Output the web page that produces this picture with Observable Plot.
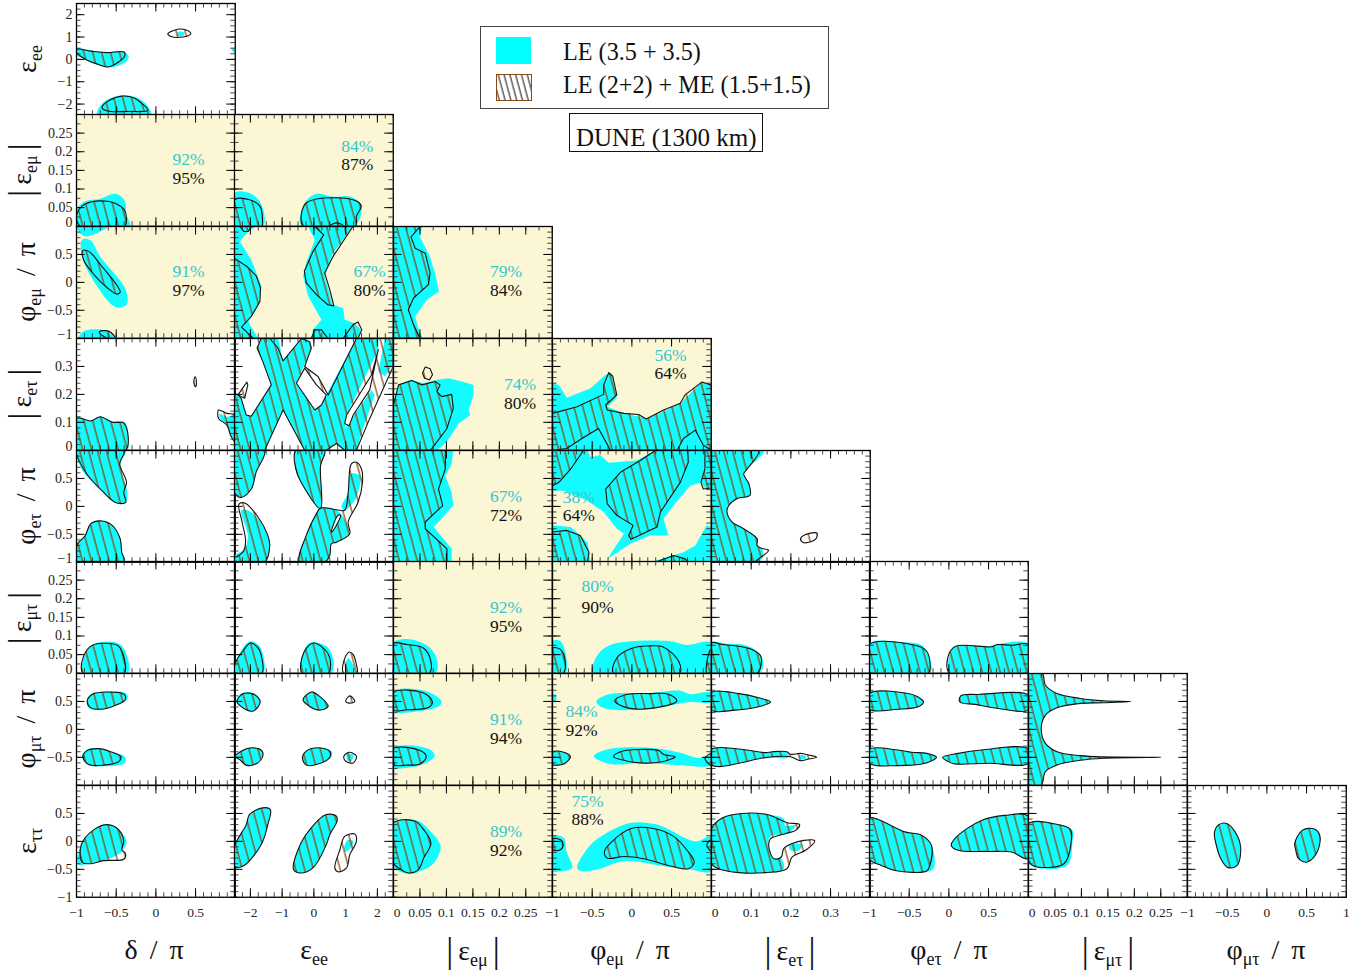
<!DOCTYPE html>
<html><head><meta charset="utf-8">
<script src="https://cdn.jsdelivr.net/npm/d3@7"></script>
<script src="https://cdn.jsdelivr.net/npm/@observablehq/plot@0.6"></script>
<style>
html,body{margin:0;padding:0;background:#fff}
#root{position:relative;width:1372px;height:973px;overflow:hidden;font-family:"Liberation Serif",serif;color:#111}
#root svg.panel{position:absolute;overflow:visible;background:transparent;max-width:none}
.t{position:absolute;white-space:nowrap;line-height:1}
.ax{font-size:28px;word-spacing:5px;transform:translate(-50%,-50%)}
.ay{font-size:28px;word-spacing:5px;transform:translate(-50%,-50%) rotate(-90deg)}
.ax sub,.ay sub{font-size:18px;vertical-align:-6px;line-height:0}
.bar{font-size:35px;vertical-align:-2px;margin:0 5px}
.box{position:absolute;box-sizing:border-box;background:#fff}
</style></head><body><div id="root">
<svg width="0" height="0" style="position:absolute"><defs>
<pattern id="hatch" patternUnits="userSpaceOnUse" width="8.6" height="8.6" patternTransform="rotate(-15)"><line x1="3" y1="0" x2="3" y2="8.6" stroke="#8b3f00" stroke-width="1.2"/></pattern>
<pattern id="hatchK" patternUnits="userSpaceOnUse" width="5.6" height="5.6" patternTransform="rotate(-15)"><line x1="2" y1="0" x2="2" y2="5.6" stroke="#111" stroke-width="1"/></pattern>
</defs></svg>
</div>
<script>
// ---- axes ----
const phiDomain=[-1,1], eeDomain=[-2.5,2.5], emDomain=[0,0.3], etDomain=[0,0.4];
const phiTicks=[-0.5,0,0.5], eeTicks=[-2,-1,0,1,2], emTicks=[0.05,0.1,0.15,0.2,0.25], etTicks=[0.1,0.2,0.3];
const rowTitles=[["ε","ee",""],["|ε","eμ","|"],["φ","eμ"," / π"],["|ε","eτ","|"],["φ","eτ"," / π"],["|ε","μτ","|"],["φ","μτ"," / π"],["ε","ττ",""]];
const colTitles=[["δ",""," / π"],["ε","ee",""],["|ε","eμ","|"],["φ","eμ"," / π"],["|ε","eτ","|"],["φ","eτ"," / π"],["|ε","μτ","|"],["φ","μτ"," / π"]];
// ---- percentage labels ----
const pctRow=[1,1,2,2,2,3,3,4,4,5,5,6,6,7,7];
const pctCol=[0,1,0,1,2,2,3,2,3,2,3,2,3,2,3];
const pctLE=[92,84,91,67,79,74,56,67,38,92,80,91,84,89,75];
const pctME=[95,87,97,80,84,80,64,72,64,95,90,94,92,92,88];
const pctX=[.41,1.37,.41,1.75,.2126,.239,.487,.2126,-.67,.2126,-.433,.2126,-.635,.2126,-.56];
const pctYLE=[.179,.214,.196,.196,.196,.236,.340,.179,.160,.177,.233,.179,.320,.179,.714];
const pctYME=[.129,.166,-.143,-.143,-.143,.168,.275,-.161,-.161,.126,.177,-.161,-.018,-.161,.393];
// ---- regions: le = LE (3.5+3.5), mc = LE (2+2)+ME (1.5+1.5); indices row_col ----
const le_0_0=[
[[-1,.48],[-.82,.40],[-.61,.33],[-.40,.33],[-.34,.10],[-.40,-.16],[-.61,-.37],[-.78,-.19],[-.91,.03],[-1,.18]],
[[-.74,-2.5],[-.655,-1.91],[-.42,-1.61],[-.235,-1.72],[-.11,-2.06],[-.06,-2.5]],
[[.27,1.22],[.35,1.22],[.35,1.07],[.27,1.07]],
[[.954,.43],[1,.55],[1,.28]]];
const mc_0_0=[
[[-1,.45],[-.82,.37],[-.61,.30],[-.40,.33],[-.39,.18],[-.47,-.12],[-.61,-.34],[-.73,-.22],[-.90,.03],[-1,.32]],
[[-.68,-2.16],[-.59,-1.84],[-.42,-1.64],[-.28,-1.72],[-.17,-1.99],[-.10,-2.28],[-.36,-2.33],[-.61,-2.31]],
[[.15,1.15],[.23,1.30],[.31,1.36],[.39,1.30],[.44,1.15],[.39,1.03],[.31,.99],[.21,1.0]]];
const le_1_0=[[[-1,.045],[-.89,.067],[-.70,.074],[-.51,.087],[-.395,.069],[-.37,.031],[-.33,0],[-1,0]]];
const mc_1_0=[[[-1,.027],[-.93,.054],[-.82,.065],[-.61,.067],[-.51,.061],[-.40,.045],[-.37,.018],[-.395,0],[-.95,0]]];
const le_1_1=[
[[-2.5,.089],[-2.02,.089],[-1.65,.058],[-1.6,0],[-2.5,0]],
[[-.39,0],[-.29,.0625],[.08,.0875],[.60,.079],[1.13,.080],[1.49,.058],[1.28,0]]];
const mc_1_1=[
[[-2.5,.071],[-2.02,.071],[-1.70,.054],[-1.62,.018],[-1.65,0],[-2.5,0]],
[[-.34,0],[-.29,.058],[.08,.073],[1.23,.071],[1.49,.055],[1.34,.027],[1.31,0]],
[[.48,0],[.73,.009],[.94,0]]];
const le_2_0=[
[[-.93,.76],[-.83,.76],[-.70,.46],[-.38,-.13],[-.37,-.40],[-.51,-.44],[-.74,-.07],[-.93,.46]],
[[-1,1],[-.61,1],[-.74,.88],[-.91,.83]],
[[-.97,-1],[-.91,-.875],[-.70,-.845],[-.55,-.905],[-.51,-1]]];
const mc_2_0=[
[[-.92,.57],[-.84,.55],[-.70,.32],[-.45,-.17],[-.49,-.21],[-.61,-.10],[-.78,.14],[-.91,.40]],
[[-.71,-.88],[-.59,-.875],[-.51,-1],[-.61,-1],[-.71,-.905]]];
const le_2_1=[
[[-2.5,1],[-1.81,1],[-2.07,.91],[-2.33,.73],[-1.97,.40],[-1.65,-.07],[-1.76,-.43],[-2.07,-.70],[-1.76,-1],[-2.5,-1]],
[[-.18,1],[.03,.76],[-.24,.35],[-.34,.11],[-.18,-.25],[.24,-.67],[-.03,-.85],[-.08,-1],[.34,-1],[1.39,-1],[1.49,-.85],[1.28,-.73],[.97,-.67],[.92,-.46],[.60,-.40],[.34,.11],[.60,.52],[1.23,1]]];
const mc_2_1=[
[[-2.5,.43],[-2.12,.29],[-1.81,.11],[-1.68,-.10],[-1.70,-.34],[-1.97,-.61],[-2.28,-.80],[-1.91,-1],[-2.5,-1]],
[[-2.33,1],[-2.2,.91],[-2.07,.91],[-1.97,1]],
[[.03,1],[.31,.85],[-.03,.55],[-.30,.20],[-.24,-.01],[.08,-.22],[.44,-.40],[.63,-.42],[.50,-.13],[.34,.17],[.60,.46],[1.23,1]],
[[-.08,-1],[.03,-.85],[.24,-.85],[.44,-1]],
[[.92,-1],[1.23,-.76],[1.39,-.71],[1.51,-.85],[1.39,-1]]];
const le_2_2=[[[0,1],[.054,1],[.050,.81],[.069,.46],[.079,.14],[.086,-.16],[.063,-.31],[.041,-.61],[.047,-.82],[.055,-1],[0,-1]]];
const mc_2_2=[[[0,1],[.050,1],[.033,.81],[.041,.61],[.060,.52],[.069,.17],[.066,-.04],[.038,-.28],[.028,-.49],[.038,-.76],[.050,-1],[0,-1]]];
const le_3_0=[
[[-1,.114],[-.82,.105],[-.70,.12],[-.55,.105],[-.39,.10],[-.35,.042],[-.36,0],[-1,0]],
[[.80,.13],[.895,.12],[1,.126],[1,.03],[.94,.054],[.895,.09],[.81,.114]]];
const mc_3_0=[
[[-1,.114],[-.82,.105],[-.70,.12],[-.55,.10],[-.40,.096],[-.38,0],[-1,0]],
[[.484,.258],[.495,.263],[.51,.246],[.50,.227],[.484,.234]],
[[.79,.144],[.895,.132],[1,.126],[1,.03],[.94,.054],[.895,.09],[.79,.114]]];
const le_3_1=[
[[-2.5,0],[-2.5,.204],[-2.29,.186],[-2.13,.126],[-1.97,.122],[-1.71,.168],[-1.34,.234],[-1.61,.318],[-1.79,.366],[-1.66,.40],[-1.13,.40],[-.97,.32],[-.39,.40],[-.13,.388],[-.08,.366],[-.55,.24],[.03,.144],[.39,.198],[1.34,.40],[2.03,.40],[2.03,.36],[1.03,.126],[.97,.078],[1.82,.216],[1.92,.198],[1.55,.078],[1.34,0],[.97,0],[.71,.024],[.39,0],[-.29,0],[-.97,.144],[-1.55,0]],
[[2.24,.40],[2.5,.40],[2.5,.306],[2.24,.264],[2.03,.282]]];
const mc_3_1=[
[[-2.5,0],[-2.5,.204],[-2.39,.198],[-2.29,.186],[-2.13,.126],[-1.97,.122],[-1.71,.168],[-1.34,.234],[-1.61,.318],[-1.79,.366],[-1.66,.40],[-1.39,.40],[-1.13,.366],[-.97,.32],[-.39,.40],[-.13,.388],[-.08,.366],[-.29,.30],[.13,.264],[.45,.198],[1.34,.40],[2.5,.40],[2.5,.30],[1.76,.114],[1.34,0],[.97,0],[.71,.024],[.39,0],[-.29,0],[-.97,.144],[-1.55,0]],
[[-2.39,.198],[-2.11,.244],[-2.08,.234],[-2.18,.186]],
[[-.47,.236],[-.22,.21],[-.18,.198],[-.47,.228]]];
const hole_3_1=[
[[-.29,.294],[-.55,.24],[.03,.144],[.24,.162],[.39,.198],[.08,.234]],
[[2.03,.36],[1.82,.27],[1.03,.126],[.97,.096],[1.11,.088],[1.24,.126],[1.76,.216],[1.97,.33]]];
const le_4_0=[
[[-1,1],[-.38,1],[-.45,.76],[-.36,.25],[-.38,.07],[-.51,.06],[-.68,.28],[-.91,.61],[-1,.91]],
[[-1,-1],[-1,-.70],[-.89,-.52],[-.82,-.31],[-.70,-.26],[-.55,-.34],[-.45,-.58],[-.43,-.82],[-.40,-1]]];
const mc_4_0=[
[[-1,1],[-.40,1],[-.455,.76],[-.37,.43],[-.405,.25],[-.38,.07],[-.51,.07],[-.68,.28],[-.87,.58],[-1,.94]],
[[-1,-1],[-1,-.70],[-.89,-.52],[-.82,-.31],[-.70,-.26],[-.55,-.34],[-.45,-.58],[-.43,-.82],[-.40,-1]]];
const le_4_1=[
[[-2.5,1],[-1.55,1],[-1.82,.61],[-1.97,.31],[-2.29,.16],[-2.5,.25]],
[[-.57,1],[.34,1],[.21,.73],[.21,-.04],[-.34,.37],[-.57,.67]],
[[-2.29,-.07],[-2.08,-.07],[-1.76,-.22],[-1.45,-.52],[-1.39,-.70],[-1.55,-1],[-2.5,-1],[-2.5,-.89],[-2.18,-.76],[-2.08,-.52]],
[[-.45,-1],[-.24,-.52],[.08,-.13],[.21,-.03],[.71,-.06],[1.03,-.31],[1.08,-.49],[.71,-.64],[.55,-.67],[.50,-.88],[.34,-1]],
[[1.08,.25],[1.15,.58],[1.45,.55],[1.39,.25],[1.24,.07],[.97,-.07],[.87,-.01]]];
const mc_4_1=[
[[-2.5,1],[-1.55,1],[-1.82,.61],[-1.97,.31],[-2.29,.16],[-2.5,.25]],
[[-.57,1],[.34,1],[.21,.73],[.21,-.04],[-.34,.37],[-.57,.67]],
[[-2.36,.04],[-2.18,.06],[-1.76,-.19],[-1.45,-.52],[-1.39,-.70],[-1.55,-1],[-2.5,-1],[-2.6,-.88],[-2.5,-.91],[-2.24,-.82],[-2.15,-.64],[-2.26,-.28]],
[[-.45,-1],[-.24,-.52],[.08,-.13],[.21,-.03],[.71,-.06],[.97,-.07],[1.08,.25],[1.18,.76],[1.34,.79],[1.50,.67],[1.53,.43],[1.39,.07],[1.08,-.28],[1.13,-.49],[.71,-.64],[.55,-.67],[.50,-.88],[.34,-1]]];
const hole_4_1=[[[.76,-.16],[.55,-.46],[.61,-.43],[.84,-.16]]];
const le_3_2=[[[0,0],[0,.174],[.0095,.234],[.0315,.252],[.0567,.24],[.082,.252],[.104,.258],[.129,.246],[.151,.234],[.151,.198],[.142,.144],[.145,.126],[.123,.096],[.101,.03],[.082,0]]];
const mc_3_2=[
[[0,0],[0,.162],[.0095,.234],[.0347,.25],[.0536,.234],[.0788,.246],[.088,.234],[.082,.21],[.091,.192],[.11,.20],[.113,.15],[.101,.078],[.0725,.006],[.069,0]],
[[.0548,.276],[.06,.298],[.0693,.292],[.0737,.27],[.068,.252],[.0586,.258]]];
const le_3_3=[[[-1,.24],[-.92,.234],[-.82,.188],[-.52,.222],[-.33,.27],[-.25,.276],[-.19,.186],[-.31,.156],[-.10,.132],[.19,.114],[.44,.144],[.61,.168],[.88,.244],[1,.234],[1,0],[-1,0]]];
const mc_3_3=[[[-1,.132],[-.69,.156],[-.355,.20],[-.355,.234],[-.29,.278],[-.24,.264],[-.19,.198],[-.33,.162],[-.31,.144],[-.10,.132],[.085,.128],[.18,.112],[.40,.144],[.61,.168],[.67,.198],[.88,.244],[1,.234],[1,0],[.90,.018],[.80,.072],[.65,.042],[.57,0],[-.27,0],[-.42,.078],[-.63,.042],[-.82,.006],[-1,0]]];
const le_4_2=[[[0,1],[.113,1],[.11,.76],[.098,.55],[.11,.25],[.113,.015],[.076,-.37],[.11,-.76],[.11,-1],[0,-1]]];
const mc_4_2=[[[0,1],[.098,1],[.098,.67],[.085,.31],[.093,.015],[.06,-.28],[.06,-.40],[.101,-.76],[.101,-1],[0,-1]]];
const le_4_3=[
[[-1,1],[-.56,1],[-.52,.88],[-.40,.92],[-.29,.78],[.06,.82],[.295,1],[.92,1],[.92,.73],[.88,.43],[.735,.37],[.525,.015],[.40,-.22],[.46,-.52],[.23,-.52],[-.02,-.67],[-.31,-.94],[-.10,-.49],[-.19,-.40],[-.355,-.10],[-.56,.10],[-.86,.28],[-1,.28]],
[[.23,-1],[.65,-.82],[.80,-.70],[.94,-.34],[1,-.37],[1,-1]],
[[-1,-.34],[-.77,-.37],[-.56,-.64],[-.52,-1],[-1,-1]],
[[.92,1],[1,1],[1,.33],[.92,.33],[.87,.43],[.92,.67]]];
const mc_4_3=[
[[-1,1],[-.61,1],[-.77,.67],[-.92,.43],[-1,.37]],
[[.295,1],[.705,1],[.71,.79],[.61,.43],[.36,-.10],[.316,-.37],[-.01,-.59],[-.04,-.52],[.015,-.34],[-.19,-.16],[-.31,.045],[-.33,.31],[-.145,.61],[.106,.82]],
[[-1,-.46],[-.82,-.43],[-.65,-.52],[-.54,-.82],[-.56,-1],[-1,-1]],
[[.92,1],[1,1],[1,.33],[.90,.31],[.87,.43],[.92,.67]],
[[.295,-1],[.525,-.88],[.67,-.94],[.71,-1]]];
const le_4_4=[[[0,1],[.132,1],[.09,.67],[.081,.58],[.094,.405],[.097,.20],[.065,.14],[.044,.02],[.039,-.10],[.052,-.28],[.081,-.40],[.115,-.58],[.115,-.70],[.128,-.77],[.128,-.93],[.115,-1],[0,-1]]];
const mc_4_4=[
[[0,1],[.119,1],[.09,.67],[.081,.58],[.094,.405],[.097,.20],[.065,.14],[.044,.02],[.039,-.10],[.052,-.28],[.081,-.40],[.115,-.58],[.115,-.70],[.128,-.755],[.144,-.785],[.115,-.96],[.108,-1],[0,-1]],
[[.224,-.59],[.237,-.505],[.266,-.48],[.262,-.59],[.233,-.65]]];
const le_5_0=[[[-.916,0],[-.90,.046],[-.80,.076],[-.615,.085],[-.447,.077],[-.355,.041],[-.355,0]]];
const mc_5_0=[[[-.916,0],[-.91,.046],[-.80,.075],[-.594,.08],[-.47,.073],[-.40,.041],[-.40,0]]];
const le_5_1=[
[[-2.48,0],[-2.45,.032],[-2.03,.085],[-1.71,.073],[-1.6,0]],
[[-.39,0],[-.34,.055],[-.13,.082],[.39,.073],[.6,.041],[.55,0]],
[[1.0,0],[1.08,.041],[1.32,0]]];
const mc_5_1=[
[[-2.48,0],[-2.47,.028],[-2.24,.059],[-2.0,.081],[-1.76,.068],[-1.64,.041],[-1.64,0]],
[[-.37,0],[-.32,.055],[-.03,.081],[.29,.068],[.5,.041],[.45,0]],
[[.94,0],[.94,.032],[1.11,.057],[1.24,.05],[1.34,.023],[1.36,0]]];
const le_5_2=[[[0,.082],[.0315,.091],[.069,.068],[.083,.032],[.079,0],[0,0]]];
const mc_5_2=[[[0,.08],[.025,.077],[.057,.067],[.0706,.032],[.068,0],[0,0]]];
const le_5_3=[
[[-1,.086],[-.90,.086],[-.824,.041],[-.84,0],[-1,0]],
[[-.48,0],[-.44,.046],[-.27,.076],[.48,.086],[.69,.076],[1,.082],[1,0]]];
const mc_5_3=[
[[-1,.067],[-.90,.064],[-.84,.032],[-.866,0],[-1,0]],
[[-.23,0],[-.19,.041],[0,.067],[.19,.073],[.40,.07],[.59,.032],[.60,0]],
[[.944,0],[.965,.05],[1,.064],[1,0]]];
const le_5_4=[[[0,.0815],[.035,.08],[.094,.0725],[.128,.041],[.128,.01],[.119,0],[0,0]]];
const mc_5_4=[[[0,.0815],[.027,.077],[.069,.0725],[.102,.064],[.123,.048],[.126,.032],[.115,0],[0,0]]];
const le_5_5=[
[[-1,.08],[-.60,.083],[-.345,.075],[-.24,.041],[-.24,0],[-1,0]],
[[.01,0],[0,.041],[.075,.072],[.495,.072],[.62,.079],[1,.079],[1,0]]];
const mc_5_5=[
[[-1,.077],[-.39,.073],[-.28,.059],[-.24,.032],[-.26,0],[-1,0]],
[[.01,0],[-.01,.045],[.08,.072],[.54,.071],[.62,.077],[.79,.075],[1,.077],[1,0]]];
const le_6_0=[
[[-.866,.50],[-.82,.63],[-.615,.68],[-.385,.65],[-.355,.56],[-.49,.44],[-.70,.35],[-.845,.38]],
[[-.93,-.49],[-.866,-.36],[-.72,-.345],[-.53,-.42],[-.39,-.49],[-.39,-.60],[-.656,-.66],[-.866,-.63]]];
const mc_6_0=[
[[-.866,.50],[-.80,.63],[-.615,.67],[-.405,.63],[-.385,.53],[-.53,.42],[-.70,.36],[-.82,.39]],
[[-.92,-.49],[-.866,-.38],[-.72,-.345],[-.57,-.40],[-.44,-.49],[-.47,-.58],[-.656,-.64],[-.845,-.63]]];
const le_6_1=[
[[-2.45,.50],[-2.24,.65],[-1.82,.63],[-1.69,.49],[-1.87,.33],[-2.18,.37]],
[[-.34,.53],[-.08,.67],[.18,.59],[.45,.41],[.18,.345],[-.13,.41]],
[[-2.48,-.49],[-2.29,-.39],[-1.92,-.33],[-1.63,-.39],[-1.63,-.51],[-1.87,-.63],[-2.13,-.64],[-2.34,-.54]],
[[-.36,-.51],[-.24,-.39],[.13,-.33],[.55,-.39],[.55,-.50],[.08,-.63],[-.24,-.64]],
[[1.03,-.45],[1.24,-.45],[1.18,-.57],[1.08,-.57]]];
const mc_6_1=[
[[-2.42,.50],[-2.22,.64],[-1.87,.62],[-1.69,.49],[-1.90,.33],[-2.13,.35]],
[[-.34,.53],[-.08,.67],[.18,.59],[.45,.41],[.18,.345],[-.13,.41]],
[[1.0,.5],[1.13,.60],[1.29,.5],[1.13,.47]],
[[-2.48,-.49],[-2.29,-.39],[-1.92,-.33],[-1.63,-.39],[-1.63,-.51],[-1.87,-.63],[-2.13,-.64],[-2.34,-.54]],
[[-.36,-.51],[-.24,-.39],[.13,-.33],[.50,-.39],[.50,-.50],[.08,-.63],[-.24,-.64]],
[[.94,-.49],[1.11,-.41],[1.34,-.48],[1.24,-.60],[1.03,-.58]]];
const le_6_2=[
[[0,.68],[.063,.68],[.091,.50],[.085,.41],[.05,.33],[0,.33]],
[[0,-.33],[.069,-.36],[.0775,-.48],[.057,-.62],[.0315,-.68],[0,-.68]]];
const mc_6_2=[
[[0,.66],[.057,.65],[.0737,.49],[.066,.39],[.025,.35],[0,.345]],
[[0,-.345],[.05,-.38],[.062,-.49],[.05,-.62],[.025,-.64],[0,-.63]]];
const le_6_3=[
[[-.447,.50],[-.313,.62],[.23,.65],[.61,.69],[.735,.63],[1,.66],[1,.49],[.735,.49],[.27,.38],[-.23,.35],[-.397,.41]],
[[-.48,-.48],[-.313,-.36],[.23,-.33],[.61,-.42],[.82,-.51],[1,-.48],[1,-.64],[.61,-.64],[.148,-.60],[-.27,-.62]],
[[-1,-.41],[-.858,-.41],[-.774,-.49],[-.858,-.62],[-.94,-.64],[-1,-.63]],
[[-1,.62],[-.96,.62],[-.96,.5],[-1,.5]]];
const mc_6_3=[
[[-.216,.51],[-.08,.62],[.23,.64],[.46,.63],[.567,.51],[.27,.38],[-.04,.38]],
[[-.23,-.49],[-.145,-.40],[.085,-.36],[.337,-.38],[.40,-.45],[.546,-.49],[.38,-.58],[.106,-.60],[-.08,-.56]],
[[-1,-.41],[-.858,-.41],[-.774,-.49],[-.858,-.62],[-.94,-.64],[-1,-.63]],
[[.92,-.51],[1,-.44],[1,-.64],[.944,-.58]]];
const le_6_4=[
[[0,.66],[.069,.64],[.119,.565],[.149,.49],[.119,.405],[.06,.345],[0,.345]],
[[0,-.357],[.069,-.35],[.136,-.416],[.153,-.40],[.19,-.41],[.193,-.505],[.136,-.505],[.069,-.607],[.0185,-.666],[0,-.636]],
[[.22,-.47],[.237,-.47],[.237,-.53],[.224,-.53]]];
const mc_6_4=[
[[0,.66],[.069,.64],[.119,.565],[.149,.49],[.119,.405],[.06,.345],[0,.345]],
[[0,-.357],[.069,-.35],[.136,-.416],[.153,-.40],[.19,-.40],[.199,-.446],[.224,-.43],[.245,-.458],[.265,-.50],[.245,-.53],[.224,-.56],[.199,-.49],[.136,-.505],[.069,-.607],[.0185,-.666],[0,-.636]]];
const le_6_5=[
[[-1,.643],[-.51,.643],[-.387,.58],[-.32,.49],[-.387,.405],[-.64,.36],[-1,.36]],
[[.15,.60],[.37,.625],[1,.61],[1,.345],[.62,.375],[.327,.447],[.138,.49]],
[[-1,-.357],[-.64,-.37],[-.47,-.41],[-.28,-.43],[-.156,-.50],[-.30,-.607],[-.64,-.648],[-1,-.607]],
[[-.08,-.50],[.117,-.43],[.41,-.37],[1,-.35],[1,-.607],[.495,-.607],[.075,-.618],[-.009,-.577]]];
const mc_6_5=le_6_5;
const le_6_6=[[[0,1],[.026,1],[.032,.79],[.054,.643],[.098,.554],[.142,.512],[.193,.50],[.142,.476],[.098,.465],[.054,.387],[.032,.256],[.024,0],[.032,-.25],[.054,-.40],[.098,-.47],[.142,-.493],[.251,-.50],[.142,-.517],[.098,-.553],[.054,-.636],[.032,-.755],[.024,-1],[0,-1]]];
const mc_6_6=le_6_6;
const le_7_0=[[[-.98,-.415],[-.94,-.06],[-.78,.21],[-.61,.30],[-.47,.21],[-.37,0],[-.45,-.21],[-.66,-.345],[-.82,-.385]]];
const mc_7_0=[[[-.93,-.37],[-.94,-.06],[-.78,.21],[-.61,.30],[-.47,.21],[-.405,0],[-.43,-.15],[-.385,-.21],[-.40,-.315],[-.66,-.345],[-.82,-.40]]];
const le_7_1=[
[[-2.5,-.445],[-2.5,-.09],[-2.13,.30],[-2.03,.48],[-1.61,.60],[-1.37,.57],[-1.45,.30],[-1.66,-.06],[-2.24,-.445]],
[[-.64,-.505],[-.5,-.15],[-.13,.21],[.39,.48],[.71,.45],[.73,.36],[.5,.12],[.39,-.06],[-.03,-.475],[-.45,-.565]],
[[.97,-.06],[1.08,.03],[1.24,0],[1.11,-.15],[.97,-.18]]];
const mc_7_1=[
le_7_1[0],le_7_1[1],
[[.66,-.475],[.82,-.15],[.97,.09],[1.29,.13],[1.34,0],[1.13,-.24],[1.03,-.475],[.76,-.545]]];
const le_7_2=[[[0,.33],[.044,.375],[.0725,.15],[.089,-.09],[.076,-.39],[.05,-.535],[.028,-.58],[0,-.445]]];
const mc_7_2=[[[0,.33],[.041,.36],[.057,.21],[.0706,-.03],[.057,-.30],[.047,-.505],[.028,-.565],[.0095,-.475],[0,-.39]]];
const le_7_3=[
[[-1,.09],[-.858,.06],[-.824,-.18],[-.753,-.475],[-.90,-.535],[-1,-.535]],
[[-.69,-.475],[-.52,-.06],[-.355,.12],[-.02,.33],[.316,.30],[.80,0],[1,.09],[1,-.535],[.735,-.505],[.40,-.445],[-.10,-.355],[-.44,-.505],[-.627,-.535]]];
const mc_7_3=[
[[-1,.04],[-.90,.03],[-.866,-.06],[-.90,-.15],[-1,-.15]],
[[-.346,-.18],[-.27,-.03],[-.01,.23],[.27,.23],[.525,.09],[.69,-.15],[.785,-.375],[.71,-.49],[.50,-.445],[.148,-.31],[-.10,-.27],[-.31,-.30]],
[[.944,-.06],[1,.03],[1,-.18]]];
const le_7_4=[
[[0,.226],[.027,.42],[.077,.50],[.14,.48],[.182,.405],[.186,.285],[.212,.285],[.19,.137],[.149,.095],[.143,-.04],[.157,-.31],[.176,-.31],[.182,-.49],[.136,-.56],[.069,-.56],[.0185,-.49],[0,-.40]],
[[.195,-.06],[.228,-.06],[.22,-.16],[.199,-.16]]];
const mc_7_4=[[[0,.226],[.027,.42],[.077,.50],[.14,.48],[.19,.335],[.222,.30],[.212,.197],[.186,.137],[.149,.048],[.144,-.07],[.157,-.31],[.176,-.28],[.182,-.13],[.203,-.04],[.233,.018],[.26,.012],[.237,-.16],[.203,-.28],[.19,-.49],[.136,-.56],[.069,-.56],[.0185,-.49],[0,-.40]]];
const le_7_5=[
[[-1,.42],[-.89,.39],[-.555,.17],[-.345,.11],[-.22,-.07],[-.18,-.43],[-.22,-.52],[-.68,-.52],[-.85,-.43],[-1,-.32]],
[[.03,-.07],[.096,.08],[.41,.375],[.705,.465],[1,.45],[1,-.31],[.79,-.19],[.495,-.18],[.117,-.16]]];
const mc_7_5=[
[[-1,.42],[-.89,.39],[-.555,.17],[-.345,.11],[-.22,-.07],[-.24,-.43],[-.28,-.53],[-.68,-.52],[-.85,-.43],[-1,-.32]],
le_7_5[1]];
const le_7_6=[[[0,.316],[.048,.316],[.083,.197],[.083,-.01],[.073,-.43],[.01,-.46],[0,-.37]]];
const mc_7_6=[[[0,.316],[.048,.316],[.079,.215],[.081,.018],[.067,-.40],[.01,-.44],[0,-.34]]];
const le_7_7=[
[[-.66,.167],[-.605,.30],[-.50,.316],[-.374,.107],[-.33,-.10],[-.374,-.43],[-.49,-.47],[-.58,-.31],[-.647,-.01]],
[[.35,-.04],[.445,.197],[.59,.226],[.667,.107],[.634,-.19],[.51,-.37],[.40,-.31],[.36,-.13]]];
const mc_7_7=le_7_7;
// ---- drawing ----
const root=document.getElementById("root");
const panelW=158.75, panelH=111.75, left0=75.5, top0=2.5;
const axes=[
 {domain:phiDomain,ticks:phiTicks,minor:0.1},
 {domain:eeDomain,ticks:eeTicks,minor:0.25},
 {domain:emDomain,ticks:emTicks,minor:0.025},
 {domain:phiDomain,ticks:phiTicks,minor:0.1},
 {domain:etDomain,ticks:etTicks,minor:0.02},
 {domain:phiDomain,ticks:phiTicks,minor:0.1},
 {domain:emDomain,ticks:emTicks,minor:0.025},
 {domain:phiDomain,ticks:phiTicks,minor:0.1}];
const rowAxes=[axes[1],axes[2],axes[3],axes[4],axes[5],axes[6],axes[7],axes[3]];
const creamCells=new Set(pctRow.map((r,i)=>r+"_"+pctCol[i]));
const regions={le_0_0,mc_0_0,le_1_0,mc_1_0,le_1_1,mc_1_1,le_2_0,mc_2_0,le_2_1,mc_2_1,le_2_2,mc_2_2,le_3_0,mc_3_0,le_3_1,mc_3_1,le_3_2,mc_3_2,le_3_3,mc_3_3,le_4_0,mc_4_0,le_4_1,mc_4_1,le_4_2,mc_4_2,le_4_3,mc_4_3,le_4_4,mc_4_4,le_5_0,mc_5_0,le_5_1,mc_5_1,le_5_2,mc_5_2,le_5_3,mc_5_3,le_5_4,mc_5_4,le_5_5,mc_5_5,le_6_0,mc_6_0,le_6_1,mc_6_1,le_6_2,mc_6_2,le_6_3,mc_6_3,le_6_4,mc_6_4,le_6_5,mc_6_5,le_6_6,mc_6_6,le_7_0,mc_7_0,le_7_1,mc_7_1,le_7_2,mc_7_2,le_7_3,mc_7_3,le_7_4,mc_7_4,le_7_5,mc_7_5,le_7_6,mc_7_6,le_7_7,mc_7_7};
const holes={ "3_1":hole_3_1, "4_1":hole_4_1 };
const sharpPanels=new Set(["2_1","2_2","3_1","3_2","3_3","4_2","4_3"]);
const px=d=>d[0], py=d=>d[1], CYAN="#12fbff", CREAM="#fbf6d4", FONT='"Liberation Serif",serif';
const fmt=v=>String(v).replace("-","−");
const minorTicks=a=>d3.range(Math.round((a.domain[1]-a.domain[0])/a.minor)+1).map(i=>+(a.domain[0]+i*a.minor).toFixed(4));
function tickMarks(xa,ya){
 const [x0,x1]=xa.domain,[y0,y1]=ya.domain;
 const dx=(x1-x0)/panelW, dy=(y1-y0)/panelH, out=[];
 const add=(vals,len,sw,col)=>{
  out.push(Plot.ruleX(vals.x,{x:d=>d,y1:y0,y2:y0+len*dy,stroke:col,strokeWidth:sw}));
  out.push(Plot.ruleX(vals.x,{x:d=>d,y1:y1,y2:y1-len*dy,stroke:col,strokeWidth:sw}));
  out.push(Plot.ruleY(vals.y,{y:d=>d,x1:x0,x2:x0+len*dx,stroke:col,strokeWidth:sw}));
  out.push(Plot.ruleY(vals.y,{y:d=>d,x1:x1,x2:x1-len*dx,stroke:col,strokeWidth:sw}));
 };
 add({x:minorTicks(xa),y:minorTicks(ya)},4.5,.9,"#333");
 add({x:xa.ticks,y:ya.ticks},8.5,1,"#000");
 return out;
}
const yLabelLists=[[-2,-1,0,1,2],[0,.05,.1,.15,.2,.25],[-1,-.5,0,.5],[0,.1,.2,.3],[-1,-.5,0,.5],[0,.05,.1,.15,.2,.25],[-.5,0,.5],[-1,-.5,0,.5]];
const raisedRows=[1,2,3,4,5];
const xLabelLists=[[-1,-.5,0,.5],[-2,-1,0,1,2],[0,.05,.1,.15,.2,.25],[-1,-.5,0,.5],[0,.1,.2,.3],[-1,-.5,0,.5],[0,.05,.1,.15,.2,.25],[-1,-.5,0,.5,1]];
for(let r=0;r<8;r++)for(let c=0;c<=r;c++){
 const xa=axes[c],ya=rowAxes[r],key=r+"_"+c;
 const curve=sharpPanels.has(key)?"linear-closed":"catmull-rom-closed";
 const marks=[];
 if(creamCells.has(key))marks.push(Plot.frame({fill:CREAM,stroke:null}));
 for(const poly of regions["le_"+key]) marks.push(Plot.line(poly,{x:px,y:py,fill:CYAN,stroke:null,curve,clip:true}));
 for(const poly of regions["mc_"+key]) marks.push(Plot.line(poly,{x:px,y:py,fill:"url(#hatch)",stroke:"#111",strokeWidth:1.1,curve,clip:true}));
 for(const poly of holes[key]||[]) marks.push(Plot.line(poly,{x:px,y:py,fill:"#fff",stroke:"#111",strokeWidth:1.1,curve,clip:true}));
 marks.push(...tickMarks(xa,ya));
 marks.push(Plot.frame({stroke:"#000",strokeWidth:1.3}));
 pctRow.forEach((pr,i)=>{ if(pr===r&&pctCol[i]===c){
  marks.push(Plot.text([pctLE[i]+"%"],{x:pctX[i],y:pctYLE[i],text:d=>d,fill:"#35c6cc",fontSize:17.5,fontFamily:FONT}));
  marks.push(Plot.text([pctME[i]+"%"],{x:pctX[i],y:pctYME[i],text:d=>d,fill:"#111",fontSize:17.5,fontFamily:FONT}));
 }});
 if(c===0){
  const raised=raisedRows.includes(r);
  marks.push(Plot.text(yLabelLists[r].filter(v=>!(raised&&v===ya.domain[0])),{x:xa.domain[0],y:d=>d,text:fmt,textAnchor:"end",dx:-4,fontSize:14,fontFamily:FONT,fill:"#222"}));
  if(raised&&yLabelLists[r].includes(ya.domain[0]))
   marks.push(Plot.text([ya.domain[0]],{x:xa.domain[0],y:d=>d,text:fmt,textAnchor:"end",dx:-4,dy:-4,fontSize:14,fontFamily:FONT,fill:"#222"}));
 }
 if(r===7){
  const zeroShift=xa.domain[0]===0;
  marks.push(Plot.text(xLabelLists[c].filter(v=>!(zeroShift&&v===0)),{x:d=>d,y:ya.domain[0],text:fmt,dy:15,fontSize:13.5,fontFamily:FONT,fill:"#222"}));
  if(zeroShift) marks.push(Plot.text([0],{x:d=>d,y:ya.domain[0],text:fmt,dy:15,dx:3.5,fontSize:13.5,fontFamily:FONT,fill:"#222"}));
 }
 const svg=Plot.plot({width:panelW,height:panelH,margin:0,x:{domain:xa.domain,axis:null},y:{domain:ya.domain,axis:null},marks});
 svg.classList.add("panel");
 svg.style.left=(left0+c*panelW)+"px";
 svg.style.top=(top0+r*panelH)+"px";
 root.appendChild(svg);
}
function title(parts,cls,x,y){
 const d=document.createElement("div");d.className="t "+cls;d.style.left=x+"px";d.style.top=y+"px";
 const [a,s,b]=parts;
 const bar=t=>t.replace("|",'<span class="bar">|</span>');
 d.innerHTML=bar(a)+(s?"<sub>"+s+"</sub>":"")+bar(b);
 root.appendChild(d);
}
const colCenters=[154,314,473,630,790,949,1108,1266];
const rowCenters=[59,170,282,394,506,618,729,841];
const rowX=[27,21,26,21,26,21,26,27];
colTitles.forEach((t,i)=>title(t,"ax",colCenters[i],950));
rowTitles.forEach((t,i)=>title(t,"ay",rowX[i],rowCenters[i]));
function box(x,y,w,h,border){const b=document.createElement("div");b.className="box";b.style.cssText=`left:${x}px;top:${y}px;width:${w}px;height:${h}px;border:${border}`;root.appendChild(b);return b;}
function label(txt,x,y,size){const d=document.createElement("div");d.className="t";d.textContent=txt;d.style.cssText=`left:${x}px;top:${y}px;font-size:${size}px`;root.appendChild(d);}
box(479.5,25.5,349,83,"1px solid #444");
const sw1=box(496,37,35,27,"none");sw1.style.background="#00ffff";
const swSvg=document.createElementNS("http://www.w3.org/2000/svg","svg");
swSvg.setAttribute("width",36);swSvg.setAttribute("height",27);swSvg.style.cssText="position:absolute;left:496px;top:74px";
swSvg.innerHTML='<rect x=".5" y=".5" width="35" height="26" fill="url(#hatchK)" stroke="#8a4a12" stroke-width="1"/>';
root.appendChild(swSvg);
label("LE (3.5 + 3.5)",563,40,24.2);
label("LE (2+2) + ME (1.5+1.5)",563,73,24.2);
box(569,113,194,39,"1px solid #111");
label("DUNE (1300 km)",576,125,25);
</script></body></html>
